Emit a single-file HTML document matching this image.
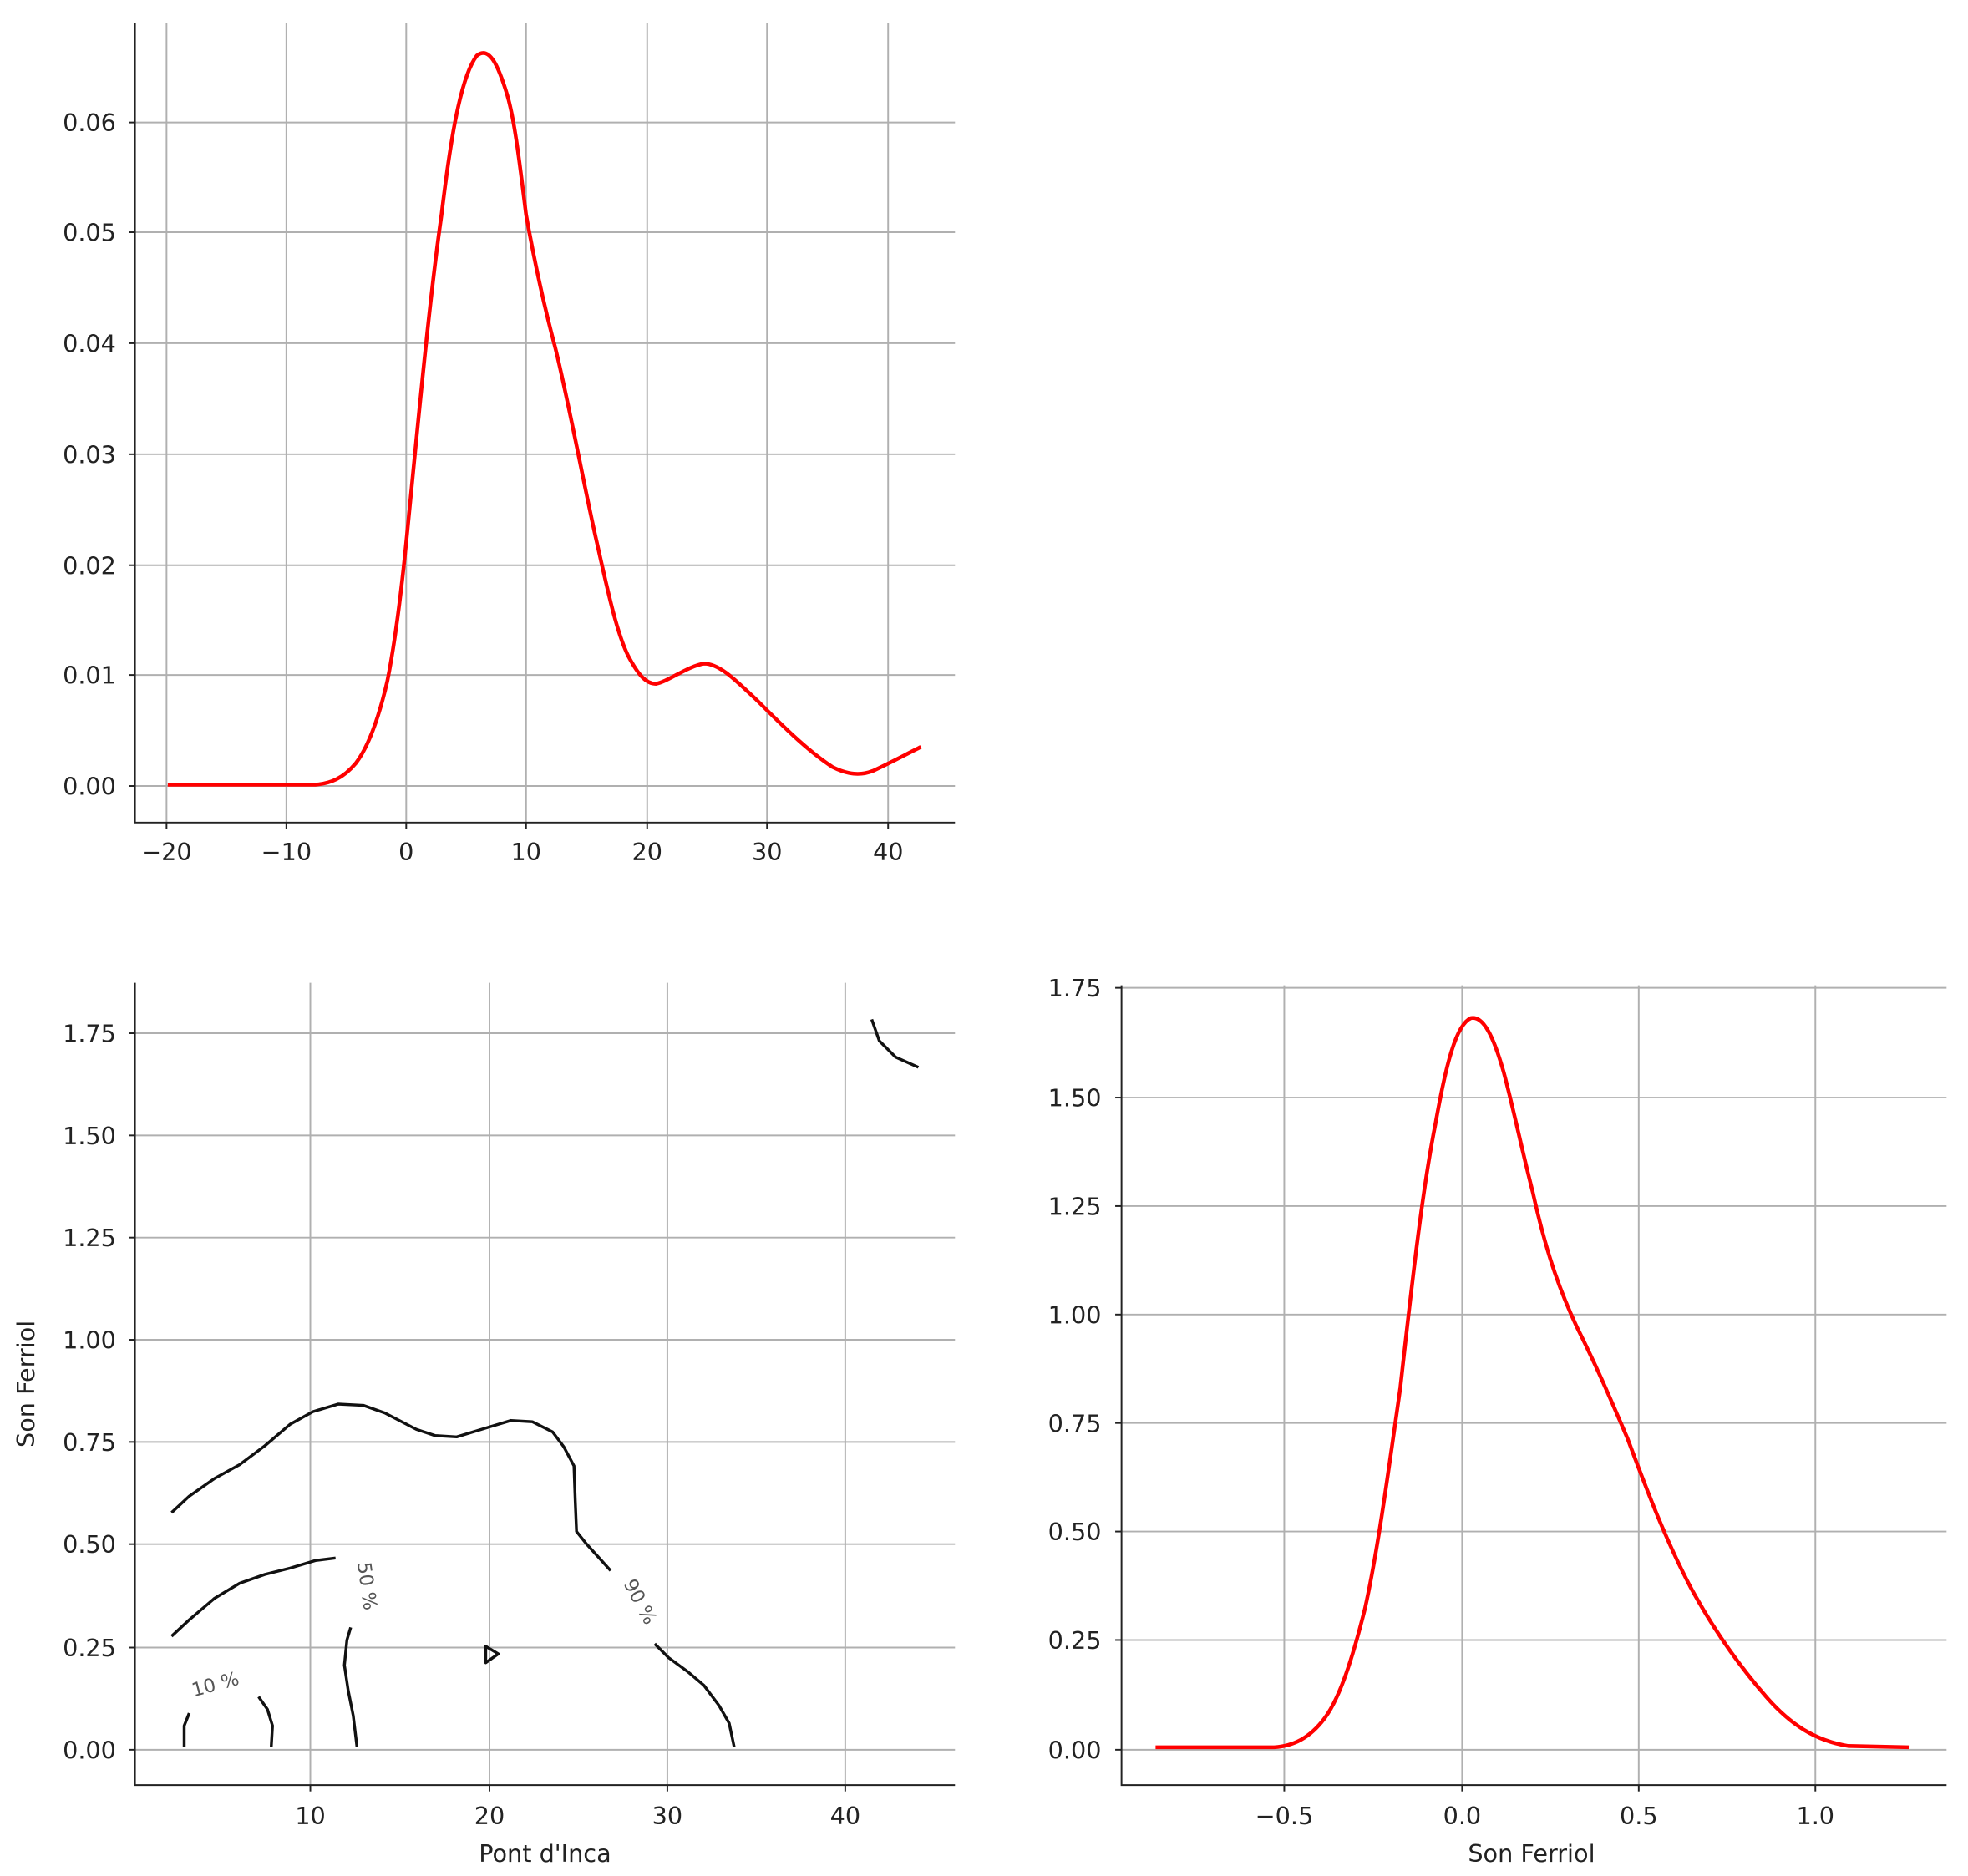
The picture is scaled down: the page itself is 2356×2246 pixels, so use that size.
<!DOCTYPE html>
<html><head><meta charset="utf-8"><style>html,body{margin:0;padding:0;background:#fff}svg{display:block}</style></head>
<body>
<svg width="2356" height="2246" viewBox="0 0 1560 1487" xmlns="http://www.w3.org/2000/svg" font-family="DejaVu Sans, Liberation Sans, sans-serif" font-size="19" fill="#222">
<rect width="1560" height="1487" fill="#fff"/>
<!-- ===== Top plot ===== -->
<g stroke="#b0b0b0" stroke-width="1.3">
<line x1="132" y1="18" x2="132" y2="652"/><line x1="227" y1="18" x2="227" y2="652"/><line x1="322" y1="18" x2="322" y2="652"/><line x1="417" y1="18" x2="417" y2="652"/><line x1="513" y1="18" x2="513" y2="652"/><line x1="608" y1="18" x2="608" y2="652"/><line x1="704" y1="18" x2="704" y2="652"/>
<line x1="107" y1="623" x2="757" y2="623"/><line x1="107" y1="535" x2="757" y2="535"/><line x1="107" y1="448" x2="757" y2="448"/><line x1="107" y1="360" x2="757" y2="360"/><line x1="107" y1="272" x2="757" y2="272"/><line x1="107" y1="184" x2="757" y2="184"/><line x1="107" y1="97" x2="757" y2="97"/>
</g>
<path d="M107,18 V652 H757" fill="none" stroke="#222" stroke-width="1.3"/>
<g stroke="#222" stroke-width="1.3">
<line x1="132" y1="652" x2="132" y2="657"/><line x1="227" y1="652" x2="227" y2="657"/><line x1="322" y1="652" x2="322" y2="657"/><line x1="417" y1="652" x2="417" y2="657"/><line x1="513" y1="652" x2="513" y2="657"/><line x1="608" y1="652" x2="608" y2="657"/><line x1="704" y1="652" x2="704" y2="657"/>
<line x1="102" y1="623" x2="107" y2="623"/><line x1="102" y1="535" x2="107" y2="535"/><line x1="102" y1="448" x2="107" y2="448"/><line x1="102" y1="360" x2="107" y2="360"/><line x1="102" y1="272" x2="107" y2="272"/><line x1="102" y1="184" x2="107" y2="184"/><line x1="102" y1="97" x2="107" y2="97"/>
</g>
<g text-anchor="middle">
<text x="132" y="682">−20</text><text x="227" y="682">−10</text><text x="322" y="682">0</text><text x="417" y="682">10</text><text x="513" y="682">20</text><text x="608" y="682">30</text><text x="704" y="682">40</text>
</g>
<g text-anchor="end">
<text x="92" y="630">0.00</text><text x="92" y="542">0.01</text><text x="92" y="455">0.02</text><text x="92" y="367">0.03</text><text x="92" y="279">0.04</text><text x="92" y="191">0.05</text><text x="92" y="104">0.06</text>
</g>
<path d="M133,622 L250,622 C262,621 272,617 282,605 C292,592 300,570 307,540 C313,510 318,470 322,430 C330,350 340,240 350,170 C356,120 364,62 378,44 C388,36 395,52 402,75 C408,95 412,130 417,170 C425,215 432,245 440,275 C450,315 462,380 472,425 C480,460 488,500 498,520 C506,535 512,542 520,542 C530,540 545,528 558,526 C570,526 582,538 600,555 C620,575 640,595 660,608 C672,614 682,615 692,611 C705,605 718,598 730,592" fill="none" stroke="#ff0000" stroke-width="3"/>

<!-- ===== Bottom-left contour ===== -->
<g stroke="#b0b0b0" stroke-width="1.3">
<line x1="246" y1="779" x2="246" y2="1415"/><line x1="388" y1="779" x2="388" y2="1415"/><line x1="529" y1="779" x2="529" y2="1415"/><line x1="670" y1="779" x2="670" y2="1415"/>
<line x1="107" y1="1387" x2="757" y2="1387"/><line x1="107" y1="1306" x2="757" y2="1306"/><line x1="107" y1="1224" x2="757" y2="1224"/><line x1="107" y1="1143" x2="757" y2="1143"/><line x1="107" y1="1062" x2="757" y2="1062"/><line x1="107" y1="981" x2="757" y2="981"/><line x1="107" y1="900" x2="757" y2="900"/><line x1="107" y1="819" x2="757" y2="819"/>
</g>
<path d="M107,779 V1415 H757" fill="none" stroke="#222" stroke-width="1.3"/>
<g stroke="#222" stroke-width="1.3">
<line x1="246" y1="1415" x2="246" y2="1420"/><line x1="388" y1="1415" x2="388" y2="1420"/><line x1="529" y1="1415" x2="529" y2="1420"/><line x1="670" y1="1415" x2="670" y2="1420"/>
<line x1="102" y1="1387" x2="107" y2="1387"/><line x1="102" y1="1306" x2="107" y2="1306"/><line x1="102" y1="1224" x2="107" y2="1224"/><line x1="102" y1="1143" x2="107" y2="1143"/><line x1="102" y1="1062" x2="107" y2="1062"/><line x1="102" y1="981" x2="107" y2="981"/><line x1="102" y1="900" x2="107" y2="900"/><line x1="102" y1="819" x2="107" y2="819"/>
</g>
<g text-anchor="middle">
<text x="246" y="1446">10</text><text x="388" y="1446">20</text><text x="529" y="1446">30</text><text x="670" y="1446">40</text>
<text x="432" y="1476">Pont d'Inca</text>
</g>
<g text-anchor="end">
<text x="92" y="1394">0.00</text><text x="92" y="1313">0.25</text><text x="92" y="1231">0.50</text><text x="92" y="1150">0.75</text><text x="92" y="1069">1.00</text><text x="92" y="988">1.25</text><text x="92" y="907">1.50</text><text x="92" y="826">1.75</text>
</g>
<text transform="translate(27,1097) rotate(-90)" text-anchor="middle">Son Ferriol</text>
<g fill="none" stroke="#111" stroke-width="2.3" stroke-linejoin="round">
<polyline points="136,1199 150,1186 170,1172 190,1161 210,1146 230,1129 248,1119 268,1113 288,1114 305,1120 330,1133 345,1138 362,1139 385,1132 405,1126 422,1127 438,1135 447,1147 455,1162 456,1190 457,1214 465,1224 475,1235 484,1245"/>
<polyline points="519,1303 530,1314 545,1325 558,1336 570,1352 578,1366 582,1385"/>
<polyline points="136,1297 150,1284 170,1267 190,1255 210,1248 230,1243 250,1237 266,1235"/>
<polyline points="278,1290 275,1300 273,1320 276,1340 280,1360 283,1385"/>
<polyline points="146,1385 146,1368 150,1358"/>
<polyline points="205,1345 212,1355 216,1368 215,1385"/>
<polygon points="385,1305 395,1311 385,1318"/>
<polyline points="691,808 697,825 710,838 728,846"/>
</g>
<g font-size="15" fill="#555" text-anchor="middle">
<text transform="translate(172,1340) rotate(-15)">10 %</text>
<text transform="translate(286,1258) rotate(82)">50 %</text>
<text transform="translate(503,1272) rotate(62)">90 %</text>
</g>

<!-- ===== Bottom-right ===== -->
<g stroke="#b0b0b0" stroke-width="1.3">
<line x1="1018" y1="781" x2="1018" y2="1415"/><line x1="1159" y1="781" x2="1159" y2="1415"/><line x1="1299" y1="781" x2="1299" y2="1415"/><line x1="1439" y1="781" x2="1439" y2="1415"/>
<line x1="889" y1="1387" x2="1543" y2="1387"/><line x1="889" y1="1300" x2="1543" y2="1300"/><line x1="889" y1="1214" x2="1543" y2="1214"/><line x1="889" y1="1128" x2="1543" y2="1128"/><line x1="889" y1="1042" x2="1543" y2="1042"/><line x1="889" y1="956" x2="1543" y2="956"/><line x1="889" y1="870" x2="1543" y2="870"/><line x1="889" y1="783" x2="1543" y2="783"/>
</g>
<path d="M889,781 V1415 H1543" fill="none" stroke="#222" stroke-width="1.3"/>
<g stroke="#222" stroke-width="1.3">
<line x1="1018" y1="1415" x2="1018" y2="1420"/><line x1="1159" y1="1415" x2="1159" y2="1420"/><line x1="1299" y1="1415" x2="1299" y2="1420"/><line x1="1439" y1="1415" x2="1439" y2="1420"/>
<line x1="884" y1="1387" x2="889" y2="1387"/><line x1="884" y1="1300" x2="889" y2="1300"/><line x1="884" y1="1214" x2="889" y2="1214"/><line x1="884" y1="1128" x2="889" y2="1128"/><line x1="884" y1="1042" x2="889" y2="1042"/><line x1="884" y1="956" x2="889" y2="956"/><line x1="884" y1="870" x2="889" y2="870"/><line x1="884" y1="783" x2="889" y2="783"/>
</g>
<g text-anchor="middle">
<text x="1018" y="1446">−0.5</text><text x="1159" y="1446">0.0</text><text x="1299" y="1446">0.5</text><text x="1439" y="1446">1.0</text>
<text x="1214" y="1476">Son Ferriol</text>
</g>
<g text-anchor="end">
<text x="873" y="1394">0.00</text><text x="873" y="1307">0.25</text><text x="873" y="1221">0.50</text><text x="873" y="1135">0.75</text><text x="873" y="1049">1.00</text><text x="873" y="963">1.25</text><text x="873" y="877">1.50</text><text x="873" y="790">1.75</text>
</g>
<path d="M916,1385 L1010,1385 C1025,1384 1038,1378 1050,1362 C1062,1346 1072,1315 1082,1275 C1092,1230 1100,1170 1110,1100 C1120,1010 1128,940 1138,890 C1146,845 1154,812 1166,807 C1176,805 1184,822 1192,850 C1200,880 1206,910 1215,945 C1225,990 1235,1020 1250,1052 C1265,1082 1275,1105 1290,1140 C1305,1180 1320,1220 1340,1258 C1360,1295 1380,1322 1400,1345 C1420,1368 1440,1380 1465,1384 L1513,1385" fill="none" stroke="#ff0000" stroke-width="3"/>
</svg>
</body></html>
